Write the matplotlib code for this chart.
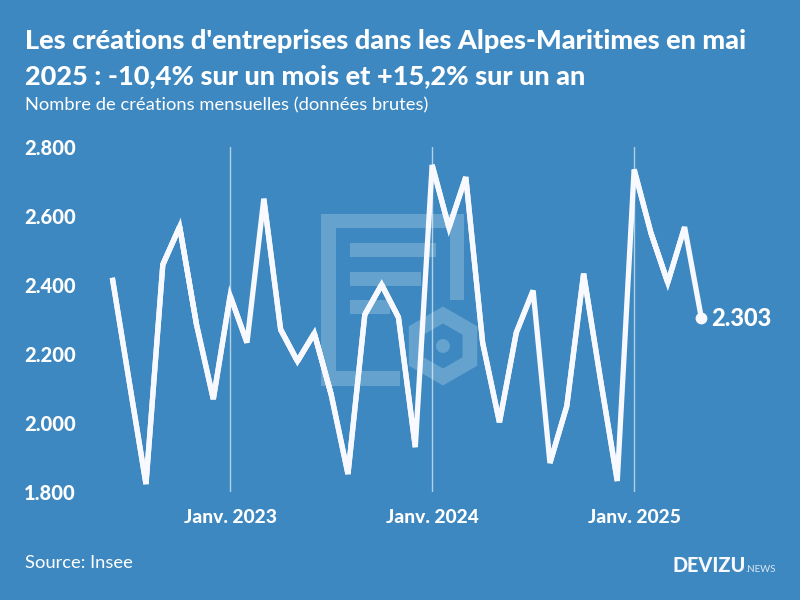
import numpy as np
import matplotlib
matplotlib.use("Agg")
import matplotlib.pyplot as plt
from matplotlib.patches import Rectangle, RegularPolygon, Circle

months = np.arange(36)  # juin 2022 -> mai 2025
creations = [2421, 2121, 1823, 2459, 2569, 2286, 2069, 2369, 2233, 2650, 2271, 2179,
             2260, 2083, 1852, 2314, 2401, 2306, 1930, 2748, 2566, 2713, 2233, 2002,
             2262, 2384, 1884, 2049, 2433, 2127, 1832, 2735, 2551, 2407, 2568, 2303]
jan_months = [7, 19, 31]
jan_labels = ["Janv. 2023", "Janv. 2024", "Janv. 2025"]
y_ticks = [1800, 2000, 2200, 2400, 2600, 2800]
y_labels = ["1.800", "2.000", "2.200", "2.400", "2.600", "2.800"]

BG = "#3d88c0"
WM = "#65a2ce"
WHITE = "#f8f9ff"

plt.rcParams["font.family"] = "Lato"

fig = plt.figure(figsize=(8, 6), dpi=100, facecolor=BG)

# calque en pixels pour le filigrane et les textes
bg = fig.add_axes([0, 0, 1, 1], zorder=0)
bg.set_xlim(0, 800)
bg.set_ylim(600, 0)
bg.axis("off")
for x, y, w, h in [(321, 214, 15, 172), (321, 214, 143, 14), (450, 214, 14, 86),
                   (321, 371, 79, 15), (350, 243, 86, 14), (350, 272, 71, 14),
                   (350, 300, 40, 14)]:
    bg.add_patch(Rectangle((x, y), w, h, color=WM, lw=0))
bg.add_patch(RegularPolygon((443, 346), 6, radius=39.5, color=WM, lw=0))
bg.add_patch(RegularPolygon((443, 346), 6, radius=22.5, color=BG, lw=0))
bg.add_patch(Circle((443, 346), 7, color=WM, lw=0))

bg.text(25, 41, "Les créations d'entreprises dans les Alpes-Maritimes en mai",
        color="white", fontsize=19.5, fontweight="black", va="center")
bg.text(25, 76, "2025 : -10,4% sur un mois et +15,2% sur un an",
        color="white", fontsize=19.5, fontweight="black", va="center")
bg.text(25, 105, "Nombre de créations mensuelles (données brutes)",
        color="white", fontsize=13.2, va="center")
bg.text(25, 563, "Source: Insee", color="white", fontsize=13.2, va="center")
bg.text(673, 566, "DEVIZU", color=WHITE, fontsize=14.3, fontweight="black", va="center")
bg.text(745, 569, ".NEWS", color="#dce9f4", fontsize=7, va="center")

# axe des données : 16,83 px par mois, 2800 -> y=147 px, 1800 -> y=492 px
ax = fig.add_axes([80 / 800, (600 - 492) / 600, 695 / 800, 345 / 600], zorder=1)
ax.patch.set_alpha(0)
ax.set_xlim(-1.92, 39.37)
ax.set_ylim(1800, 2800)
for s in ax.spines.values():
    s.set_visible(False)

for m in jan_months:
    ax.axvline(m, color="white", alpha=0.6, lw=1)
ax.plot(months, creations, color=WHITE, lw=3.8, solid_joinstyle="bevel",
        solid_capstyle="butt", clip_on=False)

# pointes peu aiguës : jointure en onglet, les autres restent coupées
pts = ax.transData.transform(np.column_stack([months, creations]))
for i in range(1, len(months) - 1):
    u = pts[i - 1] - pts[i]
    v = pts[i + 1] - pts[i]
    cos_a = u @ v / (np.linalg.norm(u) * np.linalg.norm(v))
    if 1 / np.sin(np.arccos(cos_a) / 2) <= 4:
        ax.plot(months[i - 1:i + 2], creations[i - 1:i + 2], color=WHITE, lw=3.8,
                solid_joinstyle="miter", solid_capstyle="butt", clip_on=False)

ax.plot(months[-1], creations[-1], "o", color=WHITE, ms=7.5, clip_on=False)
ax.annotate(f"{creations[-1]:,}".replace(",", "."), (months[-1], creations[-1]),
            xytext=(7, 0), textcoords="offset points", color="white",
            fontsize=17, fontweight="black", va="center", annotation_clip=False)

ax.set_xticks(jan_months, jan_labels)
ax.set_yticks(y_ticks, y_labels)
ax.tick_params(length=0, labelcolor="white")
ax.tick_params(axis="x", pad=12.5, labelsize=13.8)
ax.tick_params(axis="y", pad=3, labelsize=14.5)
for lab in ax.get_xticklabels() + ax.get_yticklabels():
    lab.set_fontweight("black")
    lab.set_clip_on(False)

fig.savefig("out.png", dpi=100, facecolor=BG)
